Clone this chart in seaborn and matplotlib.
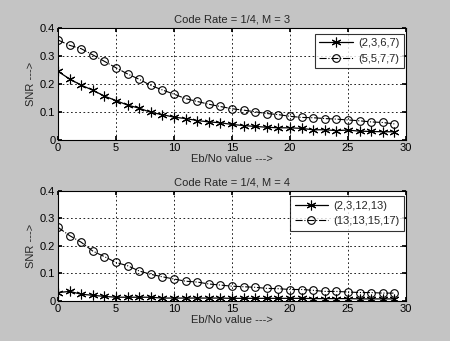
import numpy as np
import pandas as pd
import matplotlib
matplotlib.use("Agg")
import matplotlib.pyplot as plt
import seaborn as sns
from matplotlib.ticker import FuncFormatter

ebno = list(range(30))
m3_a = [0.245, 0.218, 0.196, 0.178, 0.157, 0.141, 0.125, 0.114, 0.099, 0.091,
        0.082, 0.077, 0.070, 0.065, 0.062, 0.056, 0.052, 0.049, 0.046, 0.044,
        0.044, 0.042, 0.037, 0.037, 0.034, 0.036, 0.032, 0.031, 0.030, 0.030]
m3_b = [0.357, 0.338, 0.326, 0.304, 0.281, 0.258, 0.236, 0.217, 0.195, 0.179,
        0.164, 0.148, 0.138, 0.128, 0.120, 0.112, 0.107, 0.101, 0.095, 0.091,
        0.085, 0.081, 0.080, 0.077, 0.075, 0.072, 0.069, 0.065, 0.063, 0.058]
m4_a = [0.031, 0.035, 0.025, 0.021, 0.017, 0.014, 0.014, 0.014, 0.014, 0.011,
        0.011, 0.011, 0.011, 0.011, 0.011, 0.010, 0.010, 0.010, 0.010, 0.010,
        0.010, 0.010, 0.009, 0.009, 0.009, 0.009, 0.008, 0.008, 0.008, 0.008]
m4_b = [0.267, 0.237, 0.213, 0.181, 0.161, 0.140, 0.128, 0.109, 0.097, 0.088,
        0.080, 0.072, 0.069, 0.062, 0.058, 0.054, 0.052, 0.050, 0.046, 0.045,
        0.042, 0.042, 0.039, 0.035, 0.035, 0.033, 0.031, 0.031, 0.029, 0.029]

labels_m3 = ["(2,3,6,7)", "(5,5,7,7)"]
labels_m4 = ["(2,3,12,13)", "(13,13,15,17)"]
titles = ["Code Rate = 1/4, M = 3", "Code Rate = 1/4, M = 4"]
xlabel = "Eb/No value --->"
ylabel = "SNR --->"

sns.set_theme(style="white")
plt.rcParams['font.family'] = ['Liberation Sans', 'DejaVu Sans']
plt.rcParams['font.size'] = 8

bg = "#c4c4c4"
fig = plt.figure(figsize=(4.5, 3.41), dpi=100, facecolor=bg)
ax1 = fig.add_axes([0.129, 0.589, 0.773, 0.329])
ax2 = fig.add_axes([0.129, 0.117, 0.773, 0.324])

asterisk = (6, 2, 0)

def draw(ax, a, b, labs, title, legend_bbox):
    df = pd.DataFrame({"x": ebno, "a": a, "b": b})
    sns.lineplot(data=df, x="x", y="a", ax=ax, color="black", linestyle="-",
                 linewidth=0.9, marker=asterisk, markersize=7,
                 markeredgecolor="black", markerfacecolor="black",
                 markeredgewidth=0.8, label=labs[0])
    sns.lineplot(data=df, x="x", y="b", ax=ax, color="black", linestyle="-.",
                 linewidth=0.8, marker="o", markersize=5.5,
                 markerfacecolor="none", markeredgecolor="black",
                 markeredgewidth=0.8, label=labs[1])
    ax.set_facecolor("white")
    ax.set_xlim(0, 30)
    ax.set_ylim(0, 0.4)
    ax.set_xticks(range(0, 31, 5))
    ax.set_yticks([0, 0.1, 0.2, 0.3, 0.4])
    ax.yaxis.set_major_formatter(FuncFormatter(lambda v, p: "0" if v == 0 else f"{v:.1f}"))
    ax.grid(True, color="black", linestyle=(0, (2, 3)), linewidth=0.6)
    ax.tick_params(direction="in", length=3, labelsize=8, colors="black",
                   bottom=True, left=True, top=True, right=True, pad=2)
    for s in ax.spines.values():
        s.set_color("black")
        s.set_linewidth(0.8)
    ax.set_title(title, fontsize=8, pad=4)
    ax.set_xlabel(xlabel, fontsize=8, labelpad=1)
    ax.set_ylabel(ylabel, fontsize=8, labelpad=3)
    leg = ax.legend(loc="upper right", bbox_to_anchor=legend_bbox, fontsize=8,
                    frameon=True, fancybox=False, edgecolor="black",
                    handlelength=3, borderpad=0.4, labelspacing=0.5,
                    handletextpad=0.5, borderaxespad=0)
    leg.get_frame().set_linewidth(0.8)

draw(ax1, m3_a, m3_b, labels_m3, titles[0], (0.995, 0.95))
draw(ax2, m4_a, m4_b, labels_m4, titles[1], (0.995, 0.95))

fig.savefig("out.png", dpi=100, facecolor=bg)
